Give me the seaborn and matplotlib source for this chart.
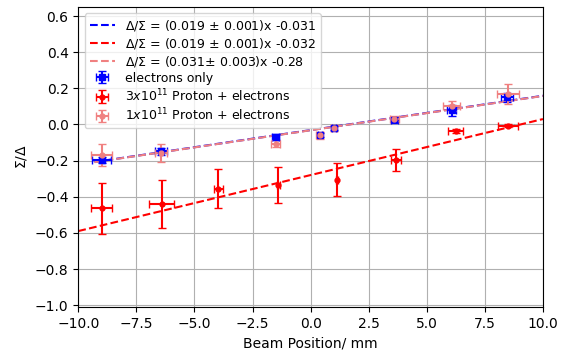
import numpy as np
import matplotlib
matplotlib.use("Agg")
import matplotlib.pyplot as plt
import seaborn as sns

# electrons only
e_x = [-9.0, -6.45, -1.5, 0.4, 1.0, 3.6, 6.07, 8.46]
e_y = [-0.196, -0.148, -0.07, -0.058, -0.02, 0.026, 0.078, 0.151]
e_xerr = [0.39, 0.25, 0.15, 0.1, 0.1, 0.15, 0.2, 0.25]
e_yerr = [0.015, 0.02, 0.015, 0.012, 0.012, 0.015, 0.03, 0.025]

# 3x10^11 protons + electrons
p3_x = [-9.0, -6.41, -3.97, -1.39, 1.14, 3.67, 6.25, 8.5]
p3_y = [-0.465, -0.44, -0.356, -0.336, -0.306, -0.196, -0.037, -0.006]
p3_xerr = [0.45, 0.54, 0.19, 0.05, 0.05, 0.2, 0.32, 0.43]
p3_yerr = [0.14, 0.134, 0.107, 0.1, 0.092, 0.059, 0.01, 0.008]

# 1x10^11 protons + electrons
p1_x = [-9.0, -6.45, -1.5, 0.4, 1.0, 3.6, 6.07, 8.5]
p1_y = [-0.17, -0.16, -0.107, -0.06, -0.02, 0.033, 0.1, 0.17]
p1_xerr = [0.45, 0.27, 0.2, 0.15, 0.12, 0.2, 0.36, 0.46]
p1_yerr = [0.06, 0.05, 0.02, 0.02, 0.015, 0.015, 0.028, 0.054]

# fit lines (slope, intercept, x range) and legend labels as shown
fit_blue = (0.019, -0.031, -9.3, 10)
fit_red = (0.031, -0.28, -10, 10)
fit_pink = (0.019, -0.032, -9.3, 10)
labels = [r"$\Delta/\Sigma$ = (0.019 $\pm$ 0.001)x -0.031",
          r"$\Delta/\Sigma$ = (0.019 $\pm$ 0.001)x -0.032",
          r"$\Delta/\Sigma$ = (0.031$\pm$ 0.003)x -0.28"]

fig = plt.figure(figsize=(5.65, 3.52), dpi=100)
ax = fig.add_axes([0.1386, 0.128, 0.8224, 0.852])

for (m, c, x0, x1), col, lab in zip([fit_blue, fit_red, fit_pink],
                                    ["blue", "red", "lightcoral"], labels):
    xs = np.linspace(x0, x1, 50)
    sns.lineplot(x=xs, y=m * xs + c, ax=ax, color=col, linestyle="--",
                 linewidth=1.5, label=lab)

ax.errorbar(e_x, e_y, xerr=e_xerr, yerr=e_yerr, fmt="s", color="blue",
            markersize=4, capsize=3, elinewidth=1.5, label="electrons only")
ax.errorbar(p3_x, p3_y, xerr=p3_xerr, yerr=p3_yerr, fmt="o", color="red",
            markersize=3.5, capsize=3, elinewidth=1.5,
            label=r"3$x$10$^{11}$ Proton + electrons")
ax.errorbar(p1_x, p1_y, xerr=p1_xerr, yerr=p1_yerr, fmt="o", color="lightcoral",
            markersize=3.5, capsize=3, elinewidth=1.5,
            label=r"1$x$10$^{11}$ Proton + electrons")

ax.set_xlim(-10, 10)
ax.set_ylim(-1.01, 0.65)
ax.set_yticks(np.arange(-1.0, 0.61, 0.2))
ax.grid(True, color="#b0b0b0", linewidth=0.8)
ax.set_axisbelow(True)
ax.set_xlabel("Beam Position/ mm")
ax.set_ylabel(r"$\Sigma/\Delta$")
ax.legend(loc="upper left", fontsize=9, handlelength=2.0, labelspacing=0.22)

plt.savefig("out.png", dpi=100)
